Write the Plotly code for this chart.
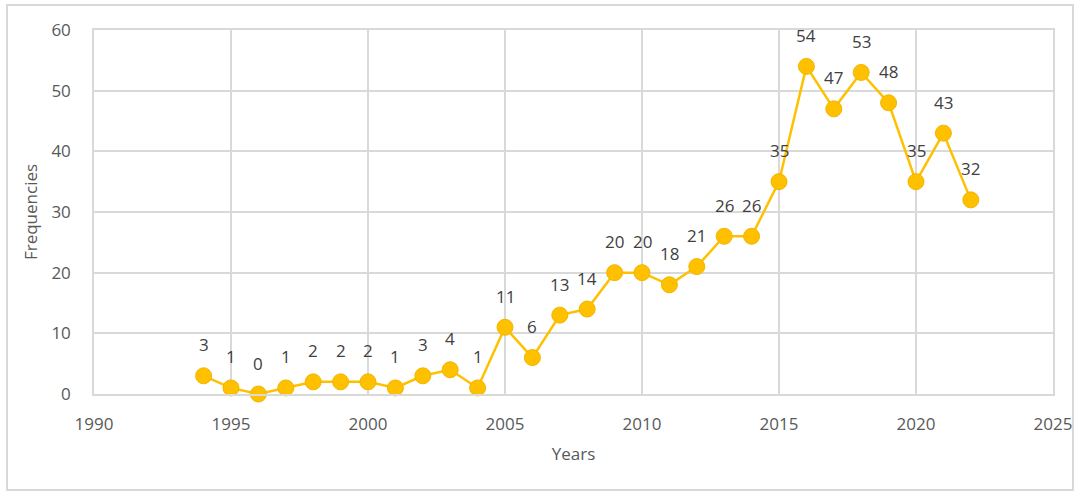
import plotly.graph_objects as go

years = [1994, 1995, 1996, 1997, 1998, 1999, 2000, 2001, 2002, 2003, 2004,
         2005, 2006, 2007, 2008, 2009, 2010, 2011, 2012, 2013, 2014, 2015,
         2016, 2017, 2018, 2019, 2020, 2021, 2022]
frequencies = [3, 1, 0, 1, 2, 2, 2, 1, 3, 4, 1,
               11, 6, 13, 14, 20, 20, 18, 21, 26, 26, 35,
               54, 47, 53, 48, 35, 43, 32]

W, H = 1078, 492
L, R, T, B = 94, 25, 30, 98
pw, ph = W - L - R, H - T - B

fig = go.Figure()
fig.add_trace(go.Scatter(
    x=years, y=frequencies,
    mode="lines+markers",
    line=dict(color="#FFC000", width=2.5),
    marker=dict(color="#FFC000", size=16, line=dict(color="#F2B600", width=1)),
    cliponaxis=False,
    showlegend=False,
))

# value labels above each point
for yr, v in zip(years, frequencies):
    fig.add_annotation(
        x=yr, y=v, text=str(v), showarrow=False, yshift=31,
        font=dict(family="Open Sans", size=17, color="#404040"),
    )

grid = "#D9D9D9"
fig.update_layout(
    width=W, height=H,
    margin=dict(l=L, r=R, t=T, b=B, autoexpand=False),
    paper_bgcolor="white", plot_bgcolor="white",
    font=dict(family="Open Sans", color="#595959"),
    xaxis=dict(
        range=[1990, 2025], tickvals=[1990, 1995, 2000, 2005, 2010, 2015, 2020, 2025],
        showgrid=True, gridcolor=grid, gridwidth=1.5, zeroline=False,
        showline=True, linecolor=grid, linewidth=1.5, mirror=True,
        tickfont=dict(size=17, color="#595959"), ticks="outside", ticklen=14,
        tickcolor="rgba(0,0,0,0)", automargin=False,
        title=dict(text="Years", font=dict(size=17, color="#595959"), standoff=14),
    ),
    yaxis=dict(
        range=[0, 60], tickvals=[0, 10, 20, 30, 40, 50, 60],
        showgrid=True, gridcolor=grid, gridwidth=1.5, zeroline=False,
        showline=True, linecolor=grid, linewidth=1.5, mirror=True,
        tickfont=dict(size=17, color="#595959"), ticks="outside", ticklen=18,
        tickcolor="rgba(0,0,0,0)", automargin=False,
        title=dict(text="Frequencies", font=dict(size=17, color="#595959"), standoff=9),
    ),
)

# light frame around the whole chart
fig.add_shape(
    type="rect", xref="paper", yref="paper",
    x0=(7 - L) / pw, x1=(1073 - L) / pw,
    y0=(H - B - 490) / ph, y1=(H - B - 5) / ph,
    line=dict(color="#D9D9D9", width=2), fillcolor="rgba(0,0,0,0)", layer="below",
)

fig.write_html("out.html")
